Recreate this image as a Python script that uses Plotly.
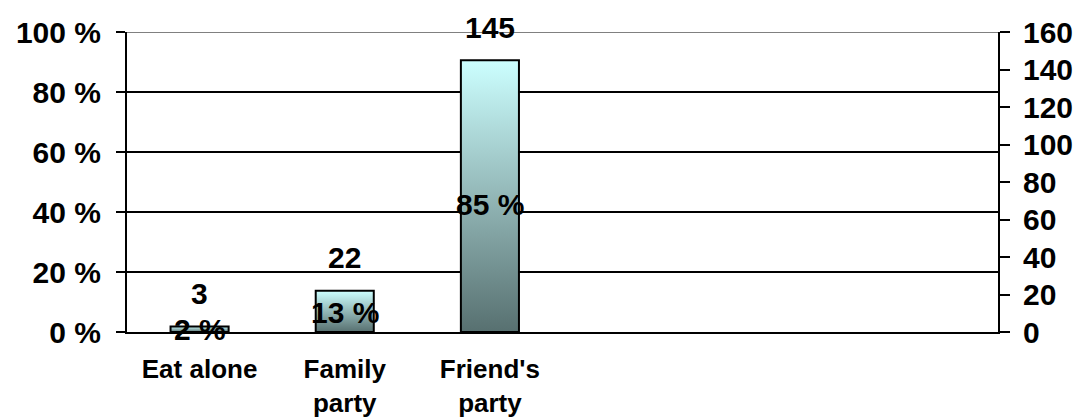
import plotly.graph_objects as go

# Dining situations (six slots on the category axis, three in use)
categories = ["Eat alone", "Family<br>party", "Friend's<br>party", "", "", ""]
counts = [3, 22, 145]          # respondents, right axis
percents = [2, 13, 85]         # share of respondents, left axis
left_ticks = [0, 20, 40, 60, 80, 100]
left_labels = [f"{v} %" for v in left_ticks]
right_ticks = [0, 20, 40, 60, 80, 100, 120, 140, 160]

FONT = "Liberation Sans, Arial, sans-serif"
BAR_WIDTH = 0.4
GRADIENT = [[0.0, "#577070"], [0.5, "#93b7b7"], [1.0, "#ccffff"]]

fig = go.Figure()

# Each bar is a closed outline filled with a vertical gradient of its own height
for i, c in enumerate(counts):
    x0, x1 = i - BAR_WIDTH / 2, i + BAR_WIDTH / 2
    fig.add_trace(go.Scatter(
        x=[x0, x0, x1, x1, x0], y=[0, c, c, 0, 0],
        mode="lines", fill="toself",
        fillgradient=dict(type="vertical", colorscale=GRADIENT, start=0, stop=c),
        line=dict(color="black", width=2),
        xaxis="x", yaxis="y2", hoverinfo="skip", showlegend=False,
    ))

label_font = dict(family=FONT, size=30, color="black", weight="bold")
tick_font = dict(family=FONT, size=30, color="black", weight="bold")
annotations = []
for i, c in enumerate(counts):
    annotations.append(dict(x=i, y=c, xref="x", yref="y2", text=str(c),
                            showarrow=False, yanchor="middle", yshift=33,
                            font=label_font))
for i, p in enumerate(percents):
    annotations.append(dict(x=i, y=p / 2, xref="x", yref="y", text=f"{p} %",
                            showarrow=False, yanchor="middle", font=label_font))

n = len(categories)
x_range = [-0.5, n - 0.5]

fig.update_layout(
    width=1079, height=419,
    margin=dict(l=127, r=81, t=32, b=87, autoexpand=False),
    paper_bgcolor="white", plot_bgcolor="white",
    font=dict(family=FONT, color="black", weight="bold"),
    showlegend=False,
    xaxis=dict(
        range=x_range, tickvals=list(range(n)), ticktext=categories,
        ticks="", showline=True, linecolor="black", linewidth=2,
        showgrid=False, zeroline=False, ticklabelstandoff=13, automargin=False,
        tickfont=dict(family=FONT, size=26, color="black", weight="bold"),
    ),
    xaxis2=dict(
        overlaying="x", anchor="y", side="bottom", range=x_range,
        tickvals=[k - 0.5 for k in range(n + 1)],
        ticks="outside", ticklen=8, tickwidth=2, tickcolor="black",
        showticklabels=False, showline=False, showgrid=False, zeroline=False,
        automargin=False,
    ),
    yaxis=dict(
        range=[0, 100], tickvals=left_ticks, ticktext=left_labels,
        ticks="outside", ticklen=9, tickwidth=2, tickcolor="black",
        showline=True, linecolor="black", linewidth=2,
        showgrid=True, gridcolor="black", gridwidth=2, zeroline=False,
        ticklabelstandoff=9, tickfont=tick_font, automargin=False,
    ),
    yaxis2=dict(
        overlaying="y", side="right", anchor="x", range=[0, 160],
        tickvals=right_ticks,
        ticks="outside", ticklen=10, tickwidth=2, tickcolor="black",
        showline=True, linecolor="black", linewidth=2,
        showgrid=False, zeroline=False,
        ticklabelstandoff=7, tickfont=tick_font, automargin=False,
    ),
    yaxis3=dict(
        overlaying="y", side="right", anchor="x", range=[0, 160],
        tickvals=right_ticks,
        ticks="inside", ticklen=10, tickwidth=2, tickcolor="black",
        showticklabels=False, showline=False, showgrid=False, zeroline=False,
        automargin=False,
    ),
    shapes=[dict(type="line", xref="paper", x0=0, x1=1, yref="y", y0=100, y1=100,
                 line=dict(color="#808080", width=2), layer="above")],
    annotations=annotations,
)

fig.write_html("out.html")
